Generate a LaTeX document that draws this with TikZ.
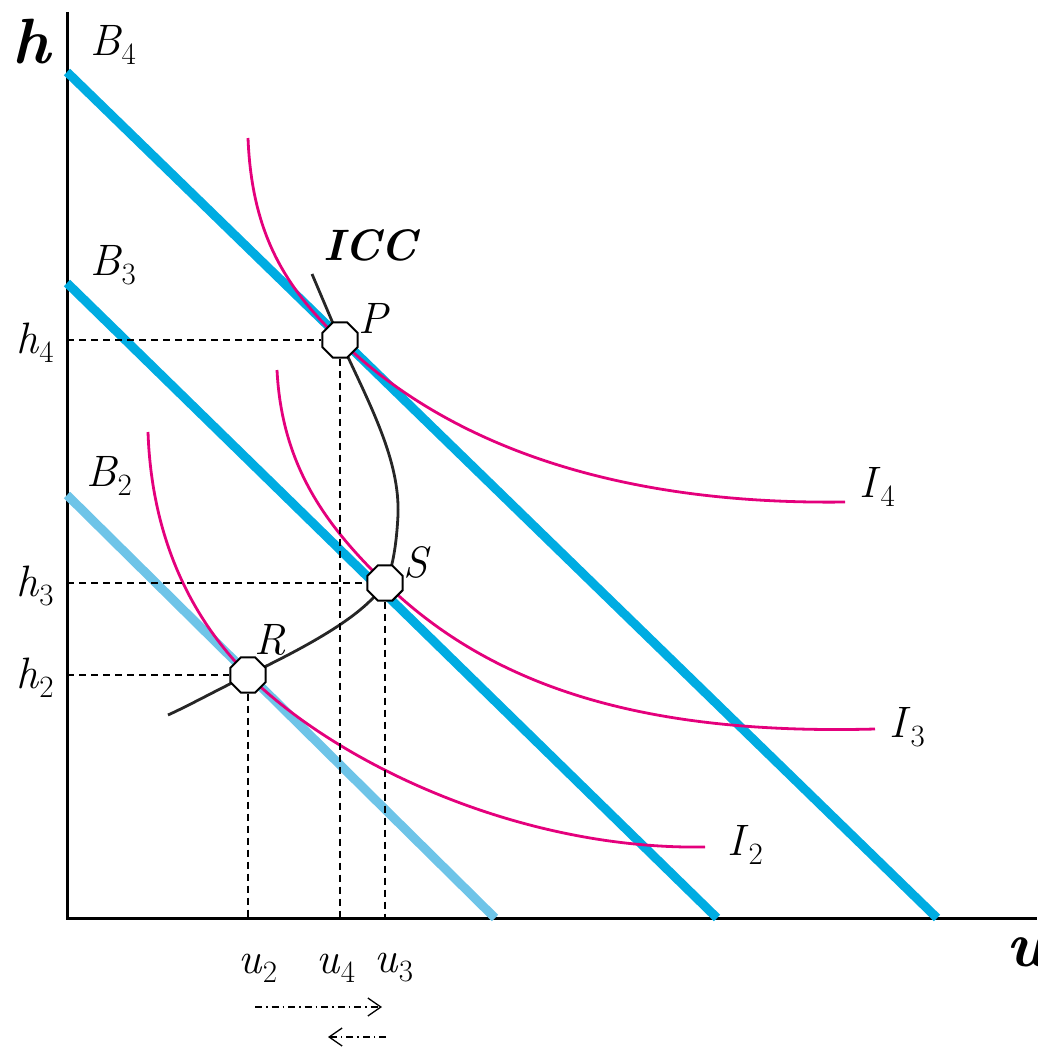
\documentclass[tikz,border=0pt]{standalone}
\usepackage{amsmath}
\usepackage{tikz}
\usetikzlibrary{shapes.geometric, arrows.meta}

\definecolor{budget}{RGB}{0,172,226}
\definecolor{budgetlight}{RGB}{110,196,232}
\definecolor{indiff}{RGB}{228,0,124}

% italic letter with an upright, lowered index
\newcommand{\sublab}[2]{\textit{#1}\raisebox{-9pt}{\fontsize{31}{33}\selectfont #2}}

\tikzset{
  budget line/.style={line width=9pt, color=budget},
  icurve/.style={line width=2.8pt, color=indiff},
  guide/.style={line width=1.6pt, dash pattern=on 7pt off 5pt},
  shiftarrow/.style={-{Straight Barb[length=13pt, width=18pt]}, line width=1.3pt,
    dash pattern=on 7pt off 4pt on 1.5pt off 4pt},
  optimum/.style={regular polygon, regular polygon sides=8, draw, fill=white,
    line width=2pt, minimum size=38pt, inner sep=0pt},
  lbl/.style={font=\fontsize{44}{50}\selectfont},
  axlbl/.style={font=\fontsize{64}{70}\selectfont\bfseries\itshape},
}

\begin{document}
\begin{tikzpicture}[x=1pt, y=-1pt]
  \useasboundingbox (0,0) rectangle (1037,1049);

  % Axes
  \coordinate (O) at (67,918);
  \coordinate (top) at (67,12);
  \coordinate (right) at (1037,918);
  \draw[line width=3pt] (top) -- (O) -- (right);
  \node[axlbl] (hax) at (31,42) {h};
  \node[axlbl, anchor=west, inner sep=0pt] (uax) at (1006,952) {u};

  % Budget lines
  \draw[budget line, color=budgetlight] (67,495) -- (495,918);
  \draw[budget line] (67,283) -- (717,918);
  \draw[budget line] (67,72) -- (937,918);
  \node[lbl] (B4) at (113,45) {\sublab{B}{4}};
  \node[lbl] (B3) at (113,265) {\sublab{B}{3}};
  \node[lbl] (B2) at (109,476) {\sublab{B}{2}};

  % Indifference curves
  \draw[icurve] (248,138) .. controls (252,240) and (290,291) .. (340,340)
    .. controls (450,447) and (620,505) .. (845,502);
  \draw[icurve] (277,370) .. controls (282,470) and (330,529) .. (385,583)
    .. controls (495,690) and (650,735) .. (875,729);
  \draw[icurve] (148,432) .. controls (152,550) and (200,627) .. (248,675)
    .. controls (338,764) and (520,850) .. (705,847);
  \node[lbl] (I4) at (877,487) {\sublab{I}{4}};
  \node[lbl] (I3) at (907,727) {\sublab{I}{3}};
  \node[lbl] (I2) at (745,845) {\sublab{I}{2}};

  % Income consumption curve
  \draw[line width=2.8pt, black!85] (312,274) -- (340,340)
    .. controls (370,405) and (400,460) .. (398,515)
    .. controls (396,555) and (390,575) .. (385,583)
    .. controls (365,615) and (310,645) .. (248,675)
    .. controls (217,690) and (190,705) .. (168,715);
  \node[font=\fontsize{44}{50}\selectfont\bfseries\itshape] (icc) at (370,245) {ICC};

  % Optimum points
  \node[optimum] (P) at (340,340) {};
  \node[optimum] (S) at (385,583) {};
  \node[optimum] (R) at (248,675) {};

  % Dashed guides
  \coordinate (hP) at (67,340);
  \coordinate (hS) at (67,583);
  \coordinate (hR) at (67,675);
  \coordinate (uP) at (340,918);
  \coordinate (uS) at (385,918);
  \coordinate (uR) at (248,918);
  \draw[guide] (hP) -- (P.west);
  \draw[guide] (hS) -- (S.west);
  \draw[guide] (hR) -- (R.west);
  \draw[guide] (P.south) -- (uP);
  \draw[guide] (S.south) -- (uS);
  \draw[guide] (R.south) -- (uR);

  \node[lbl] (Plbl) at (374,318) {\textit{P}};
  \node[lbl] (Slbl) at (417,562) {\textit{S}};
  \node[lbl] (Rlbl) at (270,640) {\textit{R}};

  \node[lbl] (h4) at (35,343) {\sublab{h}{4}};
  \node[lbl] (h3) at (35,586) {\sublab{h}{3}};
  \node[lbl] (h2) at (35,678) {\sublab{h}{2}};
  \node[lbl] (u2) at (258,968) {\sublab{u}{2}};
  \node[lbl] (u4) at (336,968) {\sublab{u}{4}};
  \node[lbl] (u3) at (394,968) {\sublab{u}{3}};

  % Shift arrows
  \coordinate (a1) at (255,1007);
  \coordinate (a2) at (382,1007);
  \coordinate (b1) at (386,1037);
  \coordinate (b2) at (328,1037);
  \draw[shiftarrow] (a1) -- (a2);
  \draw[shiftarrow] (b1) -- (b2);
\end{tikzpicture}
\end{document}
